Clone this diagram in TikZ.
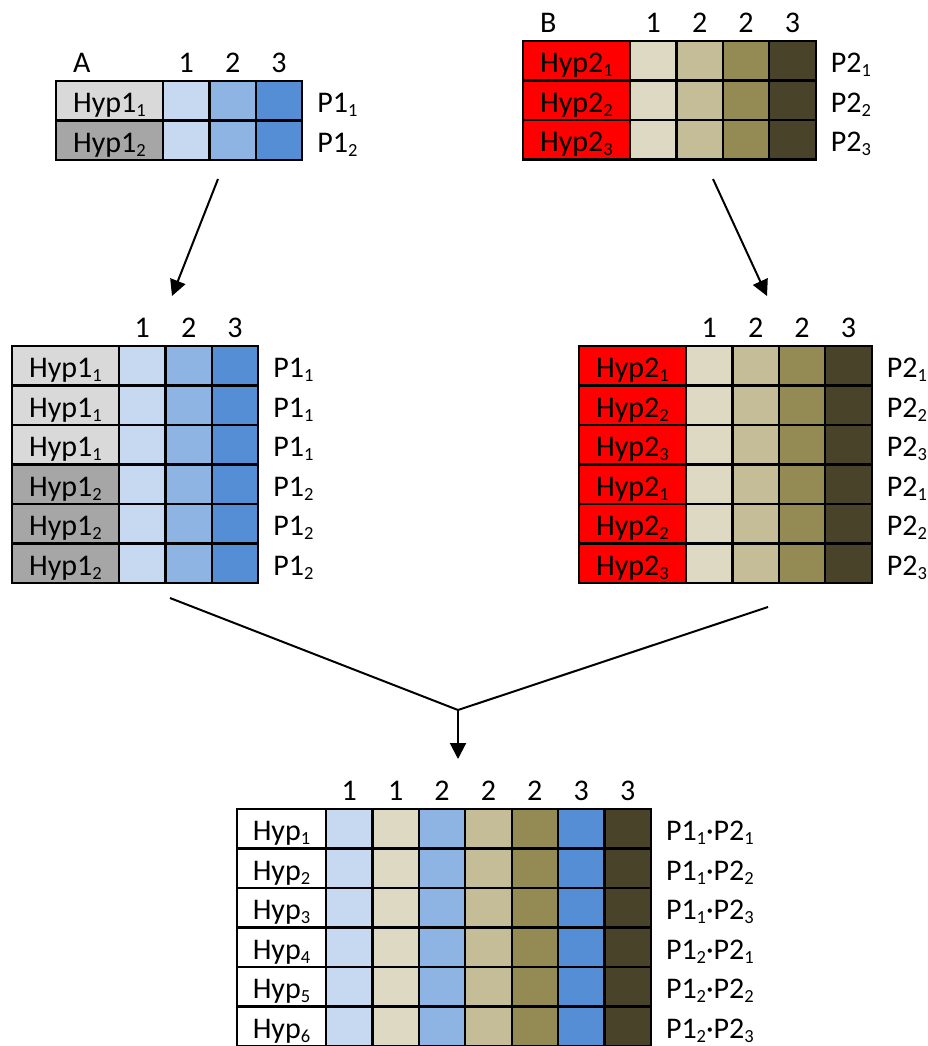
\documentclass[tikz,border=0pt]{standalone}
\usepackage{fontspec}
\setmainfont{Carlito}
\usepackage{tikz}
\usetikzlibrary{positioning,arrows.meta}
\definecolor{HypGreyA}{HTML}{D9D9D9}
\definecolor{HypGreyB}{HTML}{A6A6A6}
\definecolor{BlueOne}{HTML}{C6D9F1}
\definecolor{BlueTwo}{HTML}{8EB4E3}
\definecolor{BlueThree}{HTML}{558ED5}
\definecolor{TanOne}{HTML}{DDD9C3}
\definecolor{TanTwo}{HTML}{C4BD97}
\definecolor{TanThree}{HTML}{948A54}
\definecolor{TanFour}{HTML}{494429}
\newcommand{\cellfont}{\fontsize{30}{32}\selectfont}
\newcommand{\ix}[1]{\raisebox{-4pt}{\fontsize{18.5}{18.5}\selectfont #1}}

\begin{document}
\begin{tikzpicture}[
    x=1pt, y=-1pt,
    every node/.style={font=\cellfont, text height=24pt, text depth=0pt},
    cell/.style={draw, line width=2.2pt, inner sep=0pt, outer sep=0pt, minimum height=39.5pt},
    hyp/.style={cell, minimum width=107pt, anchor=north west},
    hypc/.style={cell, minimum width=89pt, anchor=north west},
    sq/.style={cell, minimum width=46.4pt, anchor=north west},
    lbl/.style={anchor=west, inner sep=0pt},
    num/.style={anchor=base, inner sep=0pt},
    link/.style={line width=2pt},
    arrow/.style={line width=2pt, -{Triangle[length=16pt, width=16pt]}}
  ]
  \useasboundingbox (0,0) rectangle (928,1046);

  % Table A
  \foreach \r/\fc in {1/HypGreyA, 2/HypGreyB} {
    \node[hyp, fill=\fc] (ta-h\r) at (56, {81+39.5*(\r-1)}) {Hyp1\ix{\r}};
    \foreach \cc [count=\c] in {BlueOne, BlueTwo, BlueThree}
      \node[sq, fill=\cc] (ta-\r-\c) at ([xshift={46.4*(\c-1)}]ta-h\r.north east) {};
    \node[lbl, right=15pt of ta-\r-3] (ta-p\r) {P1\ix{\r}};
  }
  \node[anchor=base west, inner sep=0pt] (ta-name) at ([xshift=17pt, yshift=8.5pt]ta-h1.north west) {A};
  \foreach \n [count=\c] in {1,2,3}
    \node[num] (ta-n\c) at ([yshift=8.5pt]ta-1-\c.north) {\n};

  % Table B
  \foreach \r in {1,2,3} {
    \node[hyp, fill=red] (tb-h\r) at (523, {41+39.5*(\r-1)}) {Hyp2\ix{\r}};
    \foreach \cc [count=\c] in {TanOne, TanTwo, TanThree, TanFour}
      \node[sq, fill=\cc] (tb-\r-\c) at ([xshift={46.4*(\c-1)}]tb-h\r.north east) {};
    \node[lbl, right=15pt of tb-\r-4] (tb-p\r) {P2\ix{\r}};
  }
  \node[anchor=base west, inner sep=0pt] (tb-name) at ([xshift=17pt, yshift=8.5pt]tb-h1.north west) {B};
  \foreach \n [count=\c] in {1,2,2,3}
    \node[num] (tb-n\c) at ([yshift=8.5pt]tb-1-\c.north) {\n};

  % A repeated
  \foreach \r/\k/\fc in {1/1/HypGreyA, 2/1/HypGreyA, 3/1/HypGreyA, 4/2/HypGreyB, 5/2/HypGreyB, 6/2/HypGreyB} {
    \node[hyp, fill=\fc] (tl-h\r) at (12, {346+39.5*(\r-1)}) {Hyp1\ix{\k}};
    \foreach \cc [count=\c] in {BlueOne, BlueTwo, BlueThree}
      \node[sq, fill=\cc] (tl-\r-\c) at ([xshift={46.4*(\c-1)}]tl-h\r.north east) {};
    \node[lbl, right=15pt of tl-\r-3] (tl-p\r) {P1\ix{\k}};
  }
  \foreach \n [count=\c] in {1,2,3}
    \node[num] (tl-n\c) at ([yshift=8.5pt]tl-1-\c.north) {\n};

  % B repeated
  \foreach \r/\k in {1/1, 2/2, 3/3, 4/1, 5/2, 6/3} {
    \node[hyp, fill=red] (tr-h\r) at (579, {346+39.5*(\r-1)}) {Hyp2\ix{\k}};
    \foreach \cc [count=\c] in {TanOne, TanTwo, TanThree, TanFour}
      \node[sq, fill=\cc] (tr-\r-\c) at ([xshift={46.4*(\c-1)}]tr-h\r.north east) {};
    \node[lbl, right=15pt of tr-\r-4] (tr-p\r) {P2\ix{\k}};
  }
  \foreach \n [count=\c] in {1,2,2,3}
    \node[num] (tr-n\c) at ([yshift=8.5pt]tr-1-\c.north) {\n};

  % Combined
  \foreach \r/\p/\q in {1/1/1, 2/1/2, 3/1/3, 4/2/1, 5/2/2, 6/2/3} {
    \node[hypc, fill=white] (tc-h\r) at (237, {809+39.5*(\r-1)}) {Hyp\ix{\r}};
    \foreach \cc [count=\c] in {BlueOne, TanOne, BlueTwo, TanTwo, TanThree, BlueThree, TanFour}
      \node[sq, fill=\cc] (tc-\r-\c) at ([xshift={46.4*(\c-1)}]tc-h\r.north east) {};
    \node[lbl, right=15pt of tc-\r-7] (tc-p\r) {P1\ix{\p}·P2\ix{\q}};
  }
  \foreach \n [count=\c] in {1,1,2,2,2,3,3}
    \node[num] (tc-n\c) at ([yshift=8.5pt]tc-1-\c.north) {\n};

  % Connectors
  \coordinate (ta-out) at (218,179);
  \coordinate (tl-in) at (172,296);
  \coordinate (tb-out) at (713,179);
  \coordinate (tr-in) at (767,296);
  \coordinate (tl-out) at (170,598);
  \coordinate (tr-out) at (768,607);
  \coordinate (merge) at (458,710);
  \coordinate (tc-in) at (458,759);
  \draw[arrow] (ta-out) -- (tl-in);
  \draw[arrow] (tb-out) -- (tr-in);
  \draw[link] (tl-out) -- (merge) -- (tr-out);
  \draw[arrow] (merge) -- (tc-in);
\end{tikzpicture}
\end{document}
